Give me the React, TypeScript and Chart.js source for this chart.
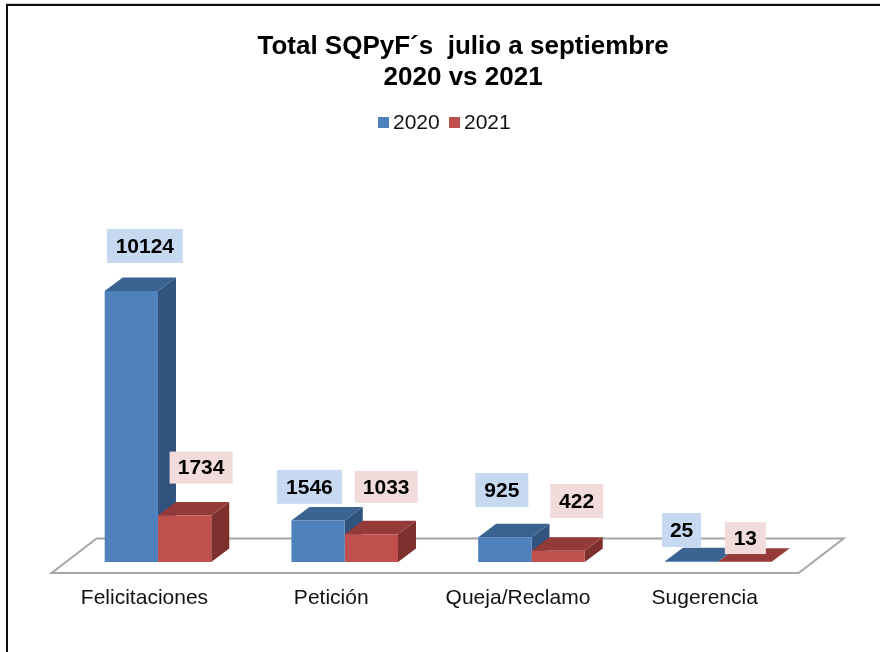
import React, { useEffect, useRef } from "react";
import { Chart, registerables } from "chart.js";

Chart.register(...registerables);

const categories = ["Felicitaciones", "Petición", "Queja/Reclamo", "Sugerencia"];
const values2020 = [10124, 1546, 925, 25];
const values2021 = [1734, 1033, 422, 13];
const titleLines = ["Total SQPyF´s  julio a septiembre", "2020 vs 2021"];

const FONT = "'Liberation Sans', Arial, sans-serif";
const DEPTH_X = 18;
const DEPTH_Y = 13.5;

const seriesStyles = [
  { face: "#4f81bd", top: "#3b6391", side: "#32537d", labelBg: "#c6d9f1" },
  { face: "#c0504d", top: "#943a38", side: "#7e302e", labelBg: "#f2dcdb" },
];

// Label-box placement relative to the top centre of each bar: [dx, dy, width, height]
const labelPlacement = [
  [[13.5, -45, 76, 34], [-8.7, -33.8, 65, 34], [-3, -47.2, 53, 34], [-10, -31.3, 39, 34]],
  [[16.5, -48, 63, 32], [14.8, -47.5, 63, 32], [18.5, -49.7, 53, 34], [0.5, -23.6, 41, 32]],
];

const poly = (ctx: CanvasRenderingContext2D, pts: number[][], fill: string) => {
  ctx.beginPath();
  pts.forEach(([x, y], i) => (i ? ctx.lineTo(x, y) : ctx.moveTo(x, y)));
  ctx.closePath();
  ctx.fillStyle = fill;
  ctx.fill();
};

const scene3d = {
  id: "scene3d",
  afterLayout(chart: any) {
    // The title sits right of the canvas centre in the reference.
    chart.titleBlock.left += 25;
    chart.titleBlock.right += 25;
  },
  beforeDraw(chart: any) {
    const { ctx, width, height } = chart;
    ctx.save();
    ctx.fillStyle = "#ffffff";
    ctx.fillRect(0, 0, width, height);
    ctx.fillStyle = "#d4d4d4";
    ctx.fillRect(6, 3, width - 6, 1);
    ctx.fillStyle = "#0d0d0d";
    ctx.fillRect(6, 4, width - 6, 2);
    ctx.fillRect(6, 4, 2, height - 4);
    ctx.restore();
  },
  beforeDatasetsDraw(chart: any) {
    const { ctx, chartArea, scales } = chart;
    const base = scales.y.getPixelForValue(0);
    ctx.save();
    // floor
    ctx.beginPath();
    ctx.moveTo(chartArea.left - 13, base + 11);
    ctx.lineTo(chartArea.right - 13, base + 11);
    ctx.lineTo(chartArea.right + 32, base - 23.5);
    ctx.lineTo(chartArea.left + 32, base - 23.5);
    ctx.closePath();
    ctx.strokeStyle = "#a6a6a6";
    ctx.lineWidth = 2;
    ctx.stroke();
    // depth faces of the bars
    chart.data.datasets.forEach((_: any, d: number) => {
      const st = seriesStyles[d];
      chart.getDatasetMeta(d).data.forEach((bar: any) => {
        const l = bar.x - bar.width / 2;
        const r = bar.x + bar.width / 2;
        const t = bar.y;
        const b = bar.base;
        poly(ctx, [[r, t], [r + DEPTH_X, t - DEPTH_Y], [r + DEPTH_X, b - DEPTH_Y], [r, b]], st.side);
        poly(ctx, [[l, t], [l + DEPTH_X, t - DEPTH_Y], [r + DEPTH_X, t - DEPTH_Y], [r, t]], st.top);
      });
    });
    ctx.restore();
  },
  afterDatasetsDraw(chart: any) {
    const { ctx } = chart;
    ctx.save();
    // value labels
    ctx.font = `bold 21px ${FONT}`;
    ctx.textAlign = "center";
    ctx.textBaseline = "middle";
    chart.data.datasets.forEach((ds: any, d: number) => {
      chart.getDatasetMeta(d).data.forEach((bar: any, i: number) => {
        const [dx, dy, w, h] = labelPlacement[d][i];
        const cx = bar.x + dx;
        const cy = bar.y + dy;
        ctx.fillStyle = seriesStyles[d].labelBg;
        ctx.fillRect(cx - w / 2, cy - h / 2, w, h);
        ctx.fillStyle = "#000000";
        ctx.fillText(String(ds.data[i]), cx, cy + 1);
      });
    });
    // legend
    ctx.font = `21px ${FONT}`;
    ctx.textAlign = "left";
    const legendX = [378, 449];
    chart.data.datasets.forEach((ds: any, d: number) => {
      ctx.fillStyle = seriesStyles[d].face;
      ctx.fillRect(legendX[d], 117, 11, 11);
      ctx.fillStyle = "#111111";
      ctx.fillText(ds.label, legendX[d] + 15, 123);
    });
    ctx.restore();
  },
};

export default function App() {
  const ref = useRef<HTMLCanvasElement>(null);
  useEffect(() => {
    const chart = new Chart(ref.current!, {
      type: "bar",
      data: {
        labels: categories,
        datasets: [
          { label: "2020", data: values2020, backgroundColor: seriesStyles[0].face },
          { label: "2021", data: values2021, backgroundColor: seriesStyles[1].face },
        ],
      },
      plugins: [scene3d],
      options: {
        responsive: false,
        animation: false,
        layout: { padding: { left: 64.6, right: 68.4, top: 0, bottom: 18 } },
        datasets: { bar: { categoryPercentage: 0.5707, barPercentage: 1 } },
        plugins: {
          legend: { display: false },
          tooltip: { enabled: false },
          title: {
            display: true,
            text: titleLines,
            color: "#000000",
            font: { family: FONT, size: 26, weight: "bold", lineHeight: 1.2 },
            padding: { top: 31, bottom: 8.2 },
          },
        },
        scales: {
          x: {
            grid: { display: false, drawTicks: false },
            border: { display: false },
            ticks: {
              color: "#111111",
              font: { family: FONT, size: 21 },
              padding: 23.4,
              labelOffset: -13.5,
              maxRotation: 0,
            },
          },
          y: { display: false, min: 0, max: 17200 },
        },
      },
    } as any);
    return () => chart.destroy();
  }, []);
  return (
    <canvas
      ref={ref}
      width={880}
      height={652}
      style={{ position: "absolute", left: 0, top: 0, display: "block" }}
    />
  );
}
